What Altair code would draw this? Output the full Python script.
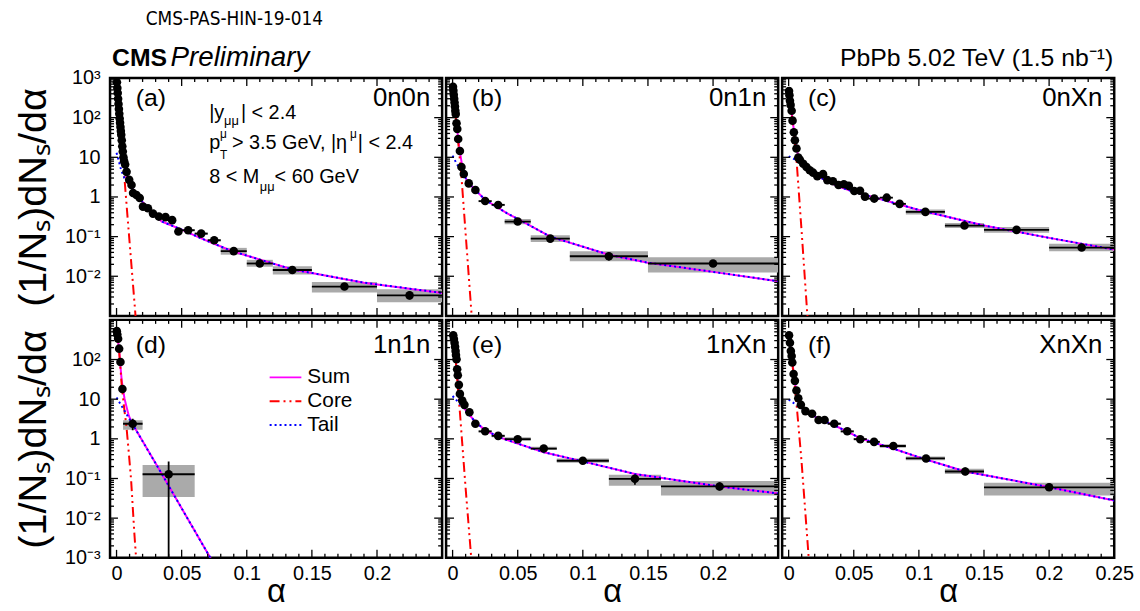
import altair as alt
import pandas as pd

FONT = "Liberation Sans"
NARROW = "'Liberation Sans Narrow', 'DejaVu Sans Condensed', Lato"
W, H = 335, 240

PANEL_TAGS = {"a": "(a)", "b": "(b)", "c": "(c)", "d": "(d)", "e": "(e)", "f": "(f)"}
PANEL_NAMES = {"a": "0n0n", "b": "0n1n", "c": "0nXn", "d": "1n1n", "e": "1nXn", "f": "XnXn"}

# ---------------- data ----------------
# narrow-bin points (error bars hidden by the markers)
DENSE_ALPHA = {
    "a": [0.0003, 0.0006, 0.0009, 0.0012, 0.0015, 0.0018, 0.0021, 0.0024, 0.0027, 0.003, 0.0033,
          0.0036, 0.004, 0.0044, 0.0048, 0.0053, 0.0058, 0.0066, 0.0077, 0.0097, 0.0115, 0.0127,
          0.0153, 0.0178, 0.0203, 0.0241, 0.028, 0.0325, 0.0376, 0.0427],
    "b": [0.0003, 0.0006, 0.0009, 0.0012, 0.0015, 0.0018, 0.0021, 0.0024, 0.003, 0.0036, 0.0043,
          0.0056, 0.0068, 0.0086, 0.0124, 0.0175],
    "c": [0.0003, 0.0006, 0.001, 0.0015, 0.0023, 0.003, 0.004, 0.0048, 0.006, 0.0074, 0.0086,
          0.0112, 0.0137, 0.0162, 0.0188, 0.022, 0.0264, 0.0297, 0.034, 0.0383, 0.0424, 0.0462,
          0.0504, 0.0548, 0.0586],
    "d": [0.0002, 0.0006, 0.0012, 0.002, 0.003, 0.0045],
    "e": [0.0005, 0.001, 0.0015, 0.0019, 0.0023, 0.0026, 0.003, 0.0035, 0.004, 0.0048, 0.0056,
          0.0074, 0.0091, 0.0129, 0.0175],
    "f": [0.0003, 0.001, 0.0017, 0.0023, 0.0028, 0.0038, 0.0048, 0.006, 0.0074, 0.0094, 0.0129,
          0.018, 0.023, 0.0276],
}
DENSE_VALUE = {
    "a": [780, 560, 420, 300, 220, 165, 125, 95, 74, 58, 46, 37, 27, 19, 14, 10, 8, 6.6, 4.3,
          2.7, 2.0, 1.26, 1.12, 0.94, 0.57, 0.52, 0.38, 0.32, 0.31, 0.26],
    "b": [600, 480, 380, 300, 240, 190, 150, 123, 72, 52, 29, 14.4, 5.7, 3.8, 2.2, 1.5],
    "c": [470, 370, 266, 210, 150, 84, 43, 27, 16.6, 9.8, 8.7, 6.9, 5.7, 4.7, 4.1, 3.35, 3.76,
          2.66, 2.5, 2.0, 2.1, 1.9, 1.41, 1.44, 1.02],
    "d": [520, 430, 335, 188, 87, 18],
    "e": [407, 330, 266, 210, 165, 130, 102, 57, 40, 23, 13.6, 9.3, 7.2, 4.7, 2.4],
    "f": [407, 266, 165, 123, 84, 43, 29, 16.6, 10.6, 7.2, 5.0, 4.3, 3.0, 3.0],
}

# wide-bin points with statistical bars and systematic boxes
BIN_ALPHA = {
    "a": [0.0475, 0.055, 0.065, 0.075, 0.09, 0.11, 0.135, 0.175, 0.225],
    "b": [0.025, 0.035, 0.05, 0.075, 0.12, 0.2],
    "c": [0.0657, 0.0753, 0.0852, 0.105, 0.135, 0.175, 0.225],
    "d": [0.0124, 0.04],
    "e": [0.025, 0.035, 0.05, 0.07, 0.1, 0.14, 0.205],
    "f": [0.035, 0.045, 0.055, 0.0656, 0.0804, 0.1055, 0.1356, 0.2],
}
BIN_VALUE = {
    "a": [0.135, 0.145, 0.119, 0.081, 0.043, 0.021, 0.0144, 0.0055, 0.0033],
    "b": [0.79, 0.63, 0.24, 0.089, 0.032, 0.021],
    "c": [0.91, 0.96, 0.67, 0.42, 0.19, 0.148, 0.053],
    "d": [2.4, 0.128],
    "e": [1.55, 1.19, 0.98, 0.57, 0.28, 0.098, 0.063],
    "f": [2.4, 1.55, 0.98, 0.84, 0.66, 0.32, 0.15, 0.06],
}
BIN_LO = {
    "a": [0.045, 0.05, 0.06, 0.07, 0.08, 0.10, 0.12, 0.15, 0.20],
    "b": [0.02, 0.03, 0.04, 0.06, 0.09, 0.15],
    "c": [0.06, 0.07, 0.08, 0.09, 0.12, 0.15, 0.20],
    "d": [0.005, 0.02],
    "e": [0.02, 0.03, 0.04, 0.06, 0.08, 0.12, 0.16],
    "f": [0.03, 0.04, 0.05, 0.06, 0.07, 0.09, 0.12, 0.15],
}
BIN_HI = {
    "a": [0.05, 0.06, 0.07, 0.08, 0.10, 0.12, 0.15, 0.20, 0.25],
    "b": [0.03, 0.04, 0.06, 0.09, 0.15, 0.25],
    "c": [0.07, 0.08, 0.09, 0.12, 0.15, 0.20, 0.25],
    "d": [0.02, 0.06],
    "e": [0.03, 0.04, 0.06, 0.08, 0.12, 0.16, 0.25],
    "f": [0.04, 0.05, 0.06, 0.07, 0.09, 0.12, 0.15, 0.25],
}
STAT_LO = {
    "a": [0.124, 0.133, 0.109, 0.074, 0.039, 0.018, 0.0125, 0.0045, 0.0026],
    "b": [0.72, 0.52, 0.21, 0.075, 0.025, 0.018],
    "c": [0.86, 0.90, 0.62, 0.39, 0.175, 0.135, 0.048],
    "d": [1.65, 0.00001],
    "e": [1.38, 1.02, 0.90, 0.50, 0.25, 0.07, 0.05],
    "f": [2.2, 1.42, 0.90, 0.77, 0.60, 0.29, 0.12, 0.05],
}
STAT_HI = {
    "a": [0.146, 0.157, 0.129, 0.088, 0.048, 0.024, 0.0165, 0.0067, 0.0042],
    "b": [0.87, 0.76, 0.27, 0.105, 0.040, 0.025],
    "c": [0.96, 1.02, 0.72, 0.45, 0.205, 0.162, 0.058],
    "d": [3.2, 0.27],
    "e": [1.72, 1.36, 1.06, 0.65, 0.31, 0.125, 0.08],
    "f": [2.6, 1.68, 1.06, 0.91, 0.72, 0.355, 0.19, 0.075],
}
SYS_LO = {
    "a": [0.127, 0.136, 0.111, 0.075, 0.035, 0.0174, 0.011, 0.0039, 0.0022],
    "b": [0.74, 0.59, 0.205, 0.073, 0.024, 0.0125],
    "c": [0.87, 0.92, 0.63, 0.36, 0.165, 0.125, 0.043],
    "d": [1.7, 0.034],
    "e": [1.45, 1.10, 0.88, 0.52, 0.25, 0.066, 0.037],
    "f": [2.25, 1.45, 0.91, 0.78, 0.60, 0.29, 0.13, 0.037],
}
SYS_HI = {
    "a": [0.143, 0.154, 0.127, 0.087, 0.052, 0.026, 0.018, 0.0072, 0.0047],
    "b": [0.84, 0.67, 0.28, 0.108, 0.043, 0.030],
    "c": [0.95, 1.00, 0.71, 0.48, 0.22, 0.175, 0.066],
    "d": [2.95, 0.22],
    "e": [1.65, 1.28, 1.10, 0.63, 0.32, 0.124, 0.087],
    "f": [2.55, 1.65, 1.05, 0.90, 0.73, 0.36, 0.175, 0.078],
}

# fitted curves
CORE_ALPHA = {
    "a": [0, 0.002, 0.0048, 0.0086, 0.0143, 0.0152],
    "b": [0, 0.002, 0.004, 0.0066, 0.01, 0.0144, 0.0152],
    "c": [0, 0.002, 0.004, 0.006, 0.01, 0.0144, 0.0152],
    "d": [0, 0.002, 0.004, 0.0061, 0.0074, 0.0094, 0.0112, 0.0124, 0.0137, 0.015, 0.0156],
    "e": [0, 0.002, 0.004, 0.0056, 0.01, 0.0143, 0.0151],
    "f": [0, 0.002, 0.004, 0.006, 0.0099, 0.0154, 0.0162],
}
CORE_VALUE = {
    "a": [930, 141, 10, 0.27, 0.0013, 0.0005],
    "b": [650, 140, 30, 4, 0.12, 0.0013, 0.0005],
    "c": [500, 150, 40, 9, 0.13, 0.001, 0.0004],
    "d": [650, 160, 22, 5.0, 2.4, 0.45, 0.09, 0.02, 0.004, 0.001, 0.0005],
    "e": [450, 140, 20, 4.7, 0.057, 0.001, 0.0004],
    "f": [420, 140, 35, 8, 0.27, 0.001, 0.0005],
}
TAIL_ALPHA = {
    "a": [0, 0.002, 0.0036, 0.006, 0.01, 0.015, 0.02, 0.025, 0.03, 0.0348, 0.05, 0.065, 0.075,
          0.0888, 0.1345, 0.19, 0.25],
    "b": [0, 0.003, 0.0068, 0.0124, 0.0175, 0.025, 0.0416, 0.05, 0.075, 0.12, 0.15, 0.2, 0.25],
    "c": [0, 0.005, 0.01, 0.015, 0.02, 0.03, 0.04, 0.05, 0.075, 0.1, 0.15, 0.2, 0.25],
    "d": [0, 0.0124, 0.0327, 0.072, 0.08],
    "e": [0, 0.005, 0.01, 0.0175, 0.025, 0.035, 0.05, 0.07, 0.1, 0.14, 0.205, 0.25],
    "f": [0, 0.005, 0.0129, 0.023, 0.035, 0.0454, 0.0555, 0.08, 0.1055, 0.1356, 0.2005, 0.25],
}
TAIL_VALUE = {
    "a": [13, 7.5, 4.7, 3.0, 2.0, 1.2, 0.75, 0.5, 0.33, 0.24, 0.15, 0.09, 0.066, 0.043, 0.015,
          0.0069, 0.0038],
    "b": [11, 7, 4.5, 2.2, 1.5, 0.85, 0.39, 0.28, 0.10, 0.035, 0.022, 0.0129, 0.0075],
    "c": [10.6, 8.8, 6.8, 5.0, 3.8, 2.4, 1.75, 1.35, 0.8, 0.47, 0.19, 0.093, 0.047],
    "d": [11, 2.3, 0.17, 0.001, 0.00036],
    "e": [12, 8, 5.2, 2.66, 1.66, 1.12, 0.76, 0.46, 0.27, 0.13, 0.063, 0.042],
    "f": [9.8, 7.5, 5.2, 3.2, 2.2, 1.5, 1.02, 0.57, 0.3, 0.15, 0.06, 0.028],
}
SUM_ALPHA = {
    "a": [0, 0.001, 0.002, 0.003, 0.004, 0.005, 0.006, 0.008, 0.01, 0.015, 0.02, 0.025, 0.03,
          0.0348, 0.05, 0.065, 0.075, 0.0888, 0.1345, 0.19, 0.25],
    "b": [0, 0.001, 0.002, 0.003, 0.004, 0.005, 0.0066, 0.008, 0.01, 0.0124, 0.0175, 0.025,
          0.0416, 0.05, 0.075, 0.12, 0.15, 0.2, 0.25],
    "c": [0, 0.001, 0.002, 0.003, 0.004, 0.005, 0.006, 0.008, 0.01, 0.015, 0.02, 0.03, 0.04,
          0.05, 0.075, 0.1, 0.15, 0.2, 0.25],
    "d": [0, 0.001, 0.002, 0.003, 0.004, 0.0061, 0.0074, 0.0094, 0.0124, 0.0327, 0.072, 0.08],
    "e": [0, 0.001, 0.002, 0.003, 0.004, 0.005, 0.0056, 0.0075, 0.01, 0.0175, 0.025, 0.035,
          0.05, 0.07, 0.1, 0.14, 0.205, 0.25],
    "f": [0, 0.001, 0.002, 0.003, 0.004, 0.005, 0.006, 0.008, 0.0099, 0.0129, 0.023, 0.035,
          0.0454, 0.0555, 0.08, 0.1055, 0.1356, 0.2005, 0.25],
}
SUM_VALUE = {
    "a": [943, 374, 149, 61, 26, 12, 6.2, 2.9, 2.07, 1.2, 0.75, 0.5, 0.33, 0.24, 0.15, 0.09,
          0.066, 0.043, 0.015, 0.0069, 0.0038],
    "b": [661, 311, 148, 72, 36, 19.3, 8.6, 4.6, 3.0, 2.2, 1.5, 0.85, 0.39, 0.28, 0.10, 0.035,
          0.022, 0.0129, 0.0075],
    "c": [511, 285, 160, 87, 49, 28, 17.4, 8.7, 6.93, 5.0, 3.8, 2.4, 1.75, 1.35, 0.8, 0.47,
          0.19, 0.093, 0.047],
    "d": [661, 333, 169, 67, 29, 10.4, 6.9, 3.85, 2.32, 0.17, 0.001, 0.00036],
    "e": [462, 261, 148, 62.5, 28.7, 16, 12.3, 7.0, 5.26, 2.66, 1.66, 1.12, 0.76, 0.46, 0.27,
          0.13, 0.063, 0.042],
    "f": [430, 251, 149, 78, 43, 24, 15.1, 7.6, 6.0, 5.2, 3.2, 2.2, 1.5, 1.02, 0.57, 0.3,
          0.15, 0.06, 0.028],
}

# axis ticks
X_MAJOR = [0.0, 0.05, 0.1, 0.15, 0.2, 0.25]
X_MINOR = [0.01, 0.02, 0.03, 0.04, 0.06, 0.07, 0.08, 0.09, 0.11, 0.12, 0.13, 0.14,
           0.16, 0.17, 0.18, 0.19, 0.21, 0.22, 0.23, 0.24]
Y_MAJOR = [1e-3, 1e-2, 1e-1, 1, 10, 100, 1000]
Y_MINOR = [m * d for d in [1e-3, 1e-2, 1e-1, 1, 10, 100] for m in range(2, 10)]

YLAB = ("datum.value > 500 ? '10³' : datum.value > 50 ? '10²' : datum.value > 5 ? '10' : "
        "datum.value > 0.5 ? '1' : datum.value > 0.05 ? '10⁻¹' : datum.value > 0.005 ? '10⁻²' : '10⁻³'")


def one():
    return pd.DataFrame({"t": [0]})


def txt(s, x, y, size, align="left", weight="normal", style="normal", color="black", font=FONT):
    return alt.Chart(one()).mark_text(
        text=s, align=align, baseline="middle", font=font, fontSize=size,
        fontWeight=weight, fontStyle=style, color=color
    ).encode(x=alt.value(x), y=alt.value(y))


def panel(k, row, col):
    xs = alt.Scale(domain=[-0.005, 0.25], nice=False, zero=False)
    ys = alt.Scale(type="log", domain=[1e-3, 1e3], nice=False)
    if row == 1:
        xvals = X_MAJOR if col == 2 else X_MAJOR[:-1]
        xaxis = alt.Axis(values=xvals, format="~g", ticks=False, domain=False, grid=False,
                         labelFont=FONT, labelFontSize=20, labelPadding=6, labelColor="black",
                         labelFlush=False, labelOverlap=False, title="α", titleFont=FONT,
                         titleFontSize=33, titleFontWeight="normal", titleBaseline="bottom",
                         titleY=51, titleColor="black")
    else:
        xaxis = None
    if col == 0:
        yvals = Y_MAJOR[1:] if row == 0 else Y_MAJOR[:-1]
        yaxis = alt.Axis(values=yvals, labelExpr=YLAB, ticks=False, domain=False, grid=False,
                         labelFont=FONT, labelFontSize=20, labelPadding=10, labelColor="black",
                         labelFlush=False, labelOverlap=False, title="(1/Nₛ)dNₛ/dα",
                         titleFont=FONT, titleFontSize=40, titleFontWeight="normal",
                         titlePadding=11, titleColor="black")
    else:
        yaxis = None

    def X(f):
        return alt.X(f, type="quantitative", scale=xs, axis=xaxis)

    def Y(f):
        return alt.Y(f, type="quantitative", scale=ys, axis=yaxis)

    binned = pd.DataFrame({
        "a": BIN_ALPHA[k], "v": BIN_VALUE[k], "lo": BIN_LO[k], "hi": BIN_HI[k],
        "slo": STAT_LO[k], "shi": STAT_HI[k], "ylo": SYS_LO[k], "yhi": SYS_HI[k],
    })
    pts = pd.DataFrame({"a": DENSE_ALPHA[k] + BIN_ALPHA[k], "v": DENSE_VALUE[k] + BIN_VALUE[k]})

    layers = []
    layers.append(alt.Chart(binned).mark_rect(color="#aaaaaa", clip=True).encode(
        x=X("lo"), x2="hi", y=Y("ylo"), y2="yhi"))

    def curve(al, vl, color, dash=None):
        kw = dict(color=color, strokeWidth=2, clip=True)
        if dash:
            kw["strokeDash"] = dash
        return alt.Chart(pd.DataFrame({"a": al, "v": vl})).mark_line(**kw).encode(
            x=X("a"), y=Y("v"))

    layers.append(curve(SUM_ALPHA[k], SUM_VALUE[k], "#ff00ff"))
    layers.append(curve(CORE_ALPHA[k], CORE_VALUE[k], "#ff0000", [10, 4, 2, 4, 2, 4]))
    layers.append(curve(TAIL_ALPHA[k], TAIL_VALUE[k], "#0000ff", [2, 3]))

    layers.append(alt.Chart(binned).mark_rule(color="black", strokeWidth=1.8, clip=True).encode(
        x=X("lo"), x2="hi", y=Y("v")))
    layers.append(alt.Chart(binned).mark_rule(color="black", strokeWidth=1.8, clip=True).encode(
        x=X("a"), y=Y("slo"), y2="shi"))
    layers.append(alt.Chart(pts).mark_circle(size=75, color="black", opacity=1, clip=True).encode(
        x=X("a"), y=Y("v")))

    def xt(vals, y1, y2):
        return alt.Chart(pd.DataFrame({"t": vals})).mark_rule(color="black", strokeWidth=1.3).encode(
            x=X("t"), y=alt.value(y1), y2=alt.value(y2))

    def yt(vals, x1, x2):
        return alt.Chart(pd.DataFrame({"t": vals})).mark_rule(color="black", strokeWidth=1.3).encode(
            y=Y("t"), x=alt.value(x1), x2=alt.value(x2))

    layers += [xt(X_MAJOR, H, H - 8), xt(X_MINOR, H, H - 4), xt(X_MAJOR, 0, 8), xt(X_MINOR, 0, 4),
               yt(Y_MAJOR, 0, 8), yt(Y_MINOR, 0, 4), yt(Y_MAJOR, W, W - 8), yt(Y_MINOR, W, W - 4)]

    ty = 20 if row == 0 else 25
    layers.append(txt(PANEL_TAGS[k], 26, ty, 25))
    layers.append(txt(PANEL_NAMES[k], 323, ty, 26, align="right"))

    if k == "a":
        layers += [
            txt("CMS-PAS-HIN-19-014", 36, -59, 19, font=NARROW),
            txt("CMS", 2, -20, 25, weight="bold"),
            txt("Preliminary", 61, -20, 28, style="italic"),
            txt("|y", 100, 35, 20), txt("μμ", 115, 43, 13), txt("| < 2.4", 132, 35, 20),
            txt("p", 100, 66, 20), txt("T", 111, 78, 12), txt("μ", 111, 57, 12),
            txt("> 3.5 GeV, |η", 123, 66, 20), txt("μ", 242, 57, 12), txt("| < 2.4", 250, 66, 20),
            txt("8 < M", 100, 100, 20), txt("μμ", 151, 110, 13), txt(" < 60 GeV", 166, 100, 20),
        ]
    if k == "c":
        layers.append(txt("PbPb 5.02 TeV (1.5 nb⁻¹)", W - 1, -20, 25, align="right"))
    if k == "d":
        def leg(y, color, dash=None):
            kw = dict(color=color, strokeWidth=2)
            if dash:
                kw["strokeDash"] = dash
            return alt.Chart(one()).mark_rule(**kw).encode(
                x=alt.value(161), x2=alt.value(193), y=alt.value(y))
        layers += [leg(58, "#ff00ff"), leg(82, "#ff0000", [10, 4, 2, 4, 2, 4]),
                   leg(106, "#0000ff", [2, 3]),
                   txt("Sum", 199, 58, 21), txt("Core", 199, 82, 21), txt("Tail", 199, 106, 21)]

    return alt.layer(*layers).properties(width=W, height=H)


top = alt.hconcat(panel("a", 0, 0), panel("b", 0, 1), panel("c", 0, 2), spacing=0)
bottom = alt.hconcat(panel("d", 1, 0), panel("e", 1, 1), panel("f", 1, 2), spacing=0)
chart = alt.vconcat(top, bottom, spacing=0).properties(
    padding={"left": 12, "top": 6, "right": 5, "bottom": 0},
    background="white",
).configure_view(stroke="black", strokeWidth=2.5)

chart.save("out.html", embed_options={"renderer": "svg", "actions": False})
